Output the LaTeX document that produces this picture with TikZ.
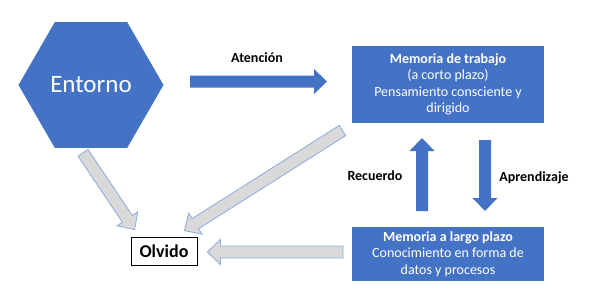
\documentclass[tikz,border=0pt]{standalone}
\usepackage{fontspec}
\setmainfont{Carlito}
\usepackage{xcolor}
\usepackage{tikz}
\usetikzlibrary{calc, positioning, shapes.geometric}

\definecolor{boxblue}{HTML}{4472C4}
\definecolor{arrowgray}{HTML}{D9D9D9}
\definecolor{arrowedge}{HTML}{8EA9DB}

% block arrow from #2 to #3
\newcommand{\blockarrow}[3][]{%
  \coordinate (hb) at ($(#3)!13pt!(#2)$);
  \filldraw[#1] ($(#2)!6pt!90:(#3)$) -- ($(hb)!6pt!90:(#3)$) -- ($(hb)!12.5pt!90:(#3)$) -- (#3)
    -- ($(hb)!12.5pt!-90:(#3)$) -- ($(hb)!6pt!-90:(#3)$) -- ($(#2)!6pt!-90:(#3)$) -- cycle;
}

\begin{document}
\begin{tikzpicture}[x=1pt, y=-1pt,
        hexa/.style={regular polygon, regular polygon sides=6, minimum size=145pt, inner sep=0pt, outer sep=0pt, fill=boxblue, text=white, font=\fontsize{25}{30}\selectfont},
        memo/.style={rectangle, fill=boxblue, text=white, minimum width=192pt, align=center, inner sep=0pt, outer sep=0pt, font=\fontsize{14}{16.5}\selectfont},
        forget/.style={rectangle, draw=black, line width=0.8pt, fill=white, minimum width=66pt, minimum height=28pt, inner sep=0pt, font=\fontsize{18}{20}\selectfont\bfseries},
        lbl/.style={inner sep=0pt, font=\fontsize{14}{16}\selectfont\bfseries},
        bluearrow/.style={fill=boxblue, draw=none},
        grayarrow/.style={fill=arrowgray, draw=arrowedge, line width=0.8pt, line join=miter}]

        \useasboundingbox (0,0) rectangle (600,300);

        \node (entorno) [hexa] at (91,85) {Entorno};
        \node (trabajo) [memo, minimum height=77pt] at (448,84.5) {\textbf{Memoria de trabajo}\\(a corto plazo)\\Pensamiento consciente y\\dirigido};
        \node (largo) [memo, minimum height=54pt] at (448,254) {\textbf{Memoria a largo plazo}\\Conocimiento en forma de\\datos y procesos};
        \node (olvido) [forget] at (164,251) {Olvido};

        \node (atencion) [lbl] at (257,58) {Atención};
        \node (recuerdo) [lbl] at (375,176) {Recuerdo};
        \node (aprendizaje) [lbl] at (534,178) {Aprendizaje};

        % arrow ends
        \coordinate (atStart) at ([shift={(26.5,-3.5)}]entorno.east);
        \coordinate (atEnd) at ([shift={(-25,-3)}]trabajo.west);
        \coordinate (reStart) at ([shift={(-26,-16)}]largo.north);
        \coordinate (reEnd) at ([shift={(-26,15)}]trabajo.south);
        \coordinate (apStart) at ([shift={(37,17)}]trabajo.south);
        \coordinate (apEnd) at ([shift={(37,-16)}]largo.north);
        \coordinate (olStartA) at ([shift={(-8,5)}]entorno.south);
        \coordinate (olEndA) at ([shift={(4,-7)}]olvido.north west);
        \coordinate (olStartB) at ([shift={(-9.5,7.5)}]trabajo.south west);
        \coordinate (olEndB) at ([shift={(-13,-6)}]olvido.north east);
        \coordinate (olStartC) at ([shift={(-9,-2)}]largo.west);
        \coordinate (olEndC) at ([shift={(10,1)}]olvido.east);

        \blockarrow[bluearrow]{atStart}{atEnd}
        \blockarrow[bluearrow]{reStart}{reEnd}
        \blockarrow[bluearrow]{apStart}{apEnd}
        \blockarrow[grayarrow]{olStartA}{olEndA}
        \blockarrow[grayarrow]{olStartB}{olEndB}
        \blockarrow[grayarrow]{olStartC}{olEndC}
    \end{tikzpicture}
\end{document}
